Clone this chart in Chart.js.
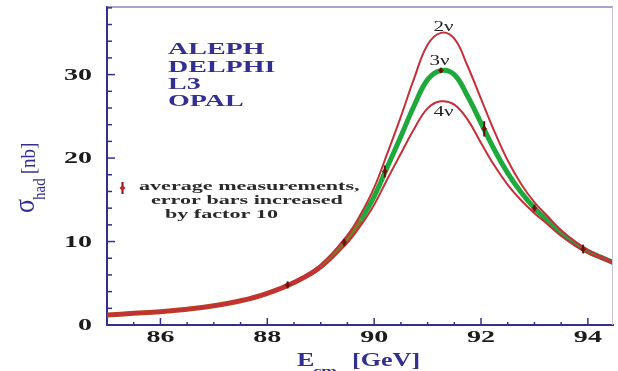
<!DOCTYPE html>
<html>
<head>
<meta charset="utf-8">
<script src="https://cdn.jsdelivr.net/npm/chart.js@4.4.1/dist/chart.umd.min.js"></script>
<style>
  html, body { margin: 0; padding: 0; background: #fff; }
</style>
</head>
<body>
<canvas id="lineshape" width="618" height="371"></canvas>
<script>
// hadronic cross section vs centre-of-mass energy
const energies = [85, 85.5, 86, 86.5, 87, 87.5, 88, 88.5, 89, 89.5, 89.75, 90, 90.25, 90.5, 90.75,
  91, 91.25, 91.5, 91.75, 92, 92.25, 92.5, 92.75, 93, 93.25, 93.5, 93.75, 94, 94.25, 94.5];
const sigma2nu = [1.21, 1.41, 1.61, 1.92, 2.32, 2.94, 3.86, 5.21, 7.22, 10.76, 13.29, 16.46, 20.62, 24.97, 29.59,
  33.57, 35.0, 34.3, 31.0, 27.1, 23.2, 19.7, 16.9, 14.7, 13.0, 11.35, 10.05, 8.99, 8.25, 7.53];
const sigma3nu = [1.2, 1.4, 1.6, 1.9, 2.3, 2.9, 3.8, 5.1, 7.0, 10.3, 12.6, 15.4, 19.0, 22.6, 26.3,
  29.4, 30.5, 30.0, 27.4, 24.2, 21.0, 18.2, 15.9, 14.0, 12.5, 11.0, 9.8, 8.8, 8.1, 7.4];
const sigma4nu = [1.19, 1.39, 1.59, 1.88, 2.27, 2.86, 3.74, 4.98, 6.78, 9.86, 11.94, 14.41, 17.52, 20.54, 23.51,
  25.96, 26.8, 26.4, 24.6, 21.8, 19.1, 16.8, 14.95, 13.4, 12.04, 10.66, 9.54, 8.6, 7.94, 7.27];

const measEnergy = [88.38, 89.44, 90.2, 91.25, 92.06, 93.0, 93.91];
const measSigma = [4.8, 9.9, 18.4, 30.5, 23.5, 14.0, 9.1];
const measError = [0.3, 0.3, 0.6, 0.2, 0.8, 0.3, 0.4];

const xTicks = [86, 88, 90, 92, 94];
const yTicks = [0, 10, 20, 30];
const experiments = ['ALEPH', 'DELPHI', 'L3', 'OPAL'];
const curveNames = ['2ν', '3ν', '4ν'];
const legendLines = ['average measurements,', 'error bars increased', 'by factor 10'];

const serif = '"Liberation Serif", "DejaVu Serif", serif';
const navy = '#332f8f';
const red = '#c4303a';

function wideText(c, text, x, y, font, color, align, sx) {
  c.save();
  c.font = font;
  c.fillStyle = color;
  c.textBaseline = 'middle';
  c.textAlign = 'left';
  const w = c.measureText(text).width * sx;
  let x0 = x;
  if (align === 'center') x0 = x - w / 2;
  if (align === 'right') x0 = x - w;
  c.translate(x0, y);
  c.scale(sx, 1);
  c.fillText(text, 0, 0);
  c.restore();
  return w;
}

const errorBars = {
  id: 'errorBars',
  afterDatasetsDraw(chart) {
    const { ctx, scales: { x, y } } = chart;
    ctx.save();
    ctx.strokeStyle = '#5c1010';
    ctx.lineWidth = 2;
    measEnergy.forEach((e, i) => {
      const px = x.getPixelForValue(e);
      ctx.beginPath();
      ctx.moveTo(px, y.getPixelForValue(measSigma[i] - measError[i]) + 1);
      ctx.lineTo(px, y.getPixelForValue(measSigma[i] + measError[i]) - 1);
      ctx.stroke();
    });
    ctx.restore();
  }
};

const frame = {
  id: 'frame',
  afterDraw(chart) {
    const { ctx, chartArea: a, scales: { x, y } } = chart;
    ctx.save();
    // top and right border
    ctx.strokeStyle = '#8a88b8';
    ctx.lineWidth = 1.5;
    ctx.beginPath();
    ctx.moveTo(a.left, a.top); ctx.lineTo(a.right, a.top);
    ctx.stroke();
    ctx.strokeStyle = '#c4c2de';
    ctx.lineWidth = 1;
    ctx.beginPath();
    ctx.moveTo(a.right - 0.5, a.top); ctx.lineTo(a.right - 0.5, a.bottom);
    ctx.stroke();

    // inward ticks
    ctx.strokeStyle = navy;
    ctx.lineWidth = 1.5;
    for (let v = 2; v <= 38; v += 2) {
      const py = y.getPixelForValue(v);
      const len = yTicks.includes(v) ? 8 : 5;
      ctx.beginPath(); ctx.moveTo(a.left, py); ctx.lineTo(a.left + len, py); ctx.stroke();
    }
    for (let v = 85.5; v <= 94.4; v += 0.5) {
      const px = x.getPixelForValue(v);
      const len = xTicks.includes(v) ? 7 : 3;
      ctx.beginPath(); ctx.moveTo(px, a.bottom); ctx.lineTo(px, a.bottom - len); ctx.stroke();
    }

    // tick labels
    const tickFont = 'bold 17px ' + serif;
    yTicks.forEach(v => wideText(ctx, String(v), 92, y.getPixelForValue(v) + 1, tickFont, '#1c1c1c', 'right', 1.65));
    xTicks.forEach(v => wideText(ctx, String(v), x.getPixelForValue(v), a.bottom + 13, tickFont, '#1c1c1c', 'center', 1.65));

    // x title: E_cm [GeV]
    ctx.fillStyle = navy;
    ctx.textBaseline = 'alphabetic';
    [['E', 297, 366, 'bold 18px '], ['cm', 313, 375, 'bold 13px '], ['[GeV]', 352, 366, 'bold 18px ']].forEach(([t, tx, ty, f]) => {
      ctx.save(); ctx.font = f + serif; ctx.translate(tx, ty); ctx.scale(1.45, 1); ctx.fillText(t, 0, 0); ctx.restore();
    });

    // y title: sigma_had [nb]
    ctx.save();
    ctx.translate(2, 213);
    ctx.scale(1.15, 1);
    ctx.rotate(-Math.PI / 2);
    ctx.fillStyle = navy;
    ctx.textBaseline = 'alphabetic';
    ctx.font = '26px ' + serif;
    let off = 0;
    ctx.fillText('σ', off, 28);
    off += ctx.measureText('σ').width - 1;
    ctx.font = '15px ' + serif;
    ctx.fillText('had', off, 37);
    off += ctx.measureText('had').width + 4;
    ctx.font = '19px ' + serif;
    ctx.fillText('[nb]', off, 29);
    ctx.restore();

    // experiments
    experiments.forEach((t, i) => wideText(ctx, t, 168, 50 + i * 17.4, 'bold 16px ' + serif, navy, 'left', 1.75));

    // curve labels
    const peakX = x.getPixelForValue(91.3);
    wideText(ctx, curveNames[0], peakX, y.getPixelForValue(35.0) - 6, '15px ' + serif, '#222', 'center', 1.4);
    wideText(ctx, curveNames[1], peakX - 4, y.getPixelForValue(30.5) - 9, '15px ' + serif, '#222', 'center', 1.4);
    wideText(ctx, curveNames[2], peakX, y.getPixelForValue(26.8) + 11, '15px ' + serif, '#222', 'center', 1.4);

    // legend
    ctx.strokeStyle = '#7a1212';
    ctx.lineWidth = 2;
    ctx.beginPath(); ctx.moveTo(122.5, 182); ctx.lineTo(122.5, 194); ctx.stroke();
    ctx.fillStyle = '#c8202a';
    ctx.beginPath(); ctx.moveTo(122.5, 185); ctx.lineTo(125.5, 188); ctx.lineTo(122.5, 191); ctx.lineTo(119.5, 188); ctx.closePath(); ctx.fill();
    const lx = [139, 151, 165];
    legendLines.forEach((t, i) => wideText(ctx, t, lx[i], 187 + i * 14, 'bold 13px ' + serif, '#2a2a2a', 'left', 1.7));
    ctx.restore();
  }
};

const pts = arr => energies.map((e, i) => ({ x: e, y: arr[i] }));
const ctx = document.getElementById('lineshape').getContext('2d');

new Chart(ctx, {
  type: 'line',
  data: {
    datasets: [
      {
        label: 'measurements',
        data: measEnergy.map((e, i) => ({ x: e, y: measSigma[i] })),
        showLine: false,
        pointStyle: 'rectRot',
        pointRadius: 2.5,
        pointBackgroundColor: '#a81a1a',
        pointBorderColor: '#7a1212',
        pointBorderWidth: 1,
        order: 0
      },
      {
        label: '2nu',
        data: pts(sigma2nu),
        borderColor: red,
        borderWidth: 2,
        pointRadius: 0,
        tension: 0.4,
        order: 1
      },
      {
        label: '4nu',
        data: pts(sigma4nu),
        borderColor: red,
        borderWidth: 2,
        pointRadius: 0,
        tension: 0.4,
        order: 1
      },
      {
        label: '3nu',
        data: pts(sigma3nu),
        borderColor: '#1fa83c',
        borderWidth: 5,
        pointRadius: 0,
        tension: 0.4,
        segment: {
          borderColor: c => c.p1.parsed.x <= 89 ? '#b8401e' : (c.p1.parsed.x <= 89.75 ? '#7d7a22' : '#1fa83c')
        },
        order: 2
      }
    ]
  },
  options: {
    responsive: false,
    animation: false,
    layout: { padding: { top: 7, right: 1, left: 0, bottom: 0 } },
    plugins: { legend: { display: false }, tooltip: { enabled: false } },
    scales: {
      x: {
        type: 'linear',
        min: 85,
        max: 94.47,
        afterBuildTicks: s => { s.ticks = xTicks.map(v => ({ value: v })); },
        afterFit: s => { s.height = 46; },
        grid: { display: false, drawTicks: false },
        border: { display: true, color: navy, width: 2 },
        ticks: { display: false }
      },
      y: {
        type: 'linear',
        min: 0,
        max: 38.1,
        afterBuildTicks: s => { s.ticks = yTicks.map(v => ({ value: v })); },
        afterFit: s => { s.width = 107; },
        grid: { display: false, drawTicks: false },
        border: { display: true, color: navy, width: 2 },
        ticks: { display: false }
      }
    }
  },
  plugins: [errorBars, frame]
});
</script>
</body>
</html>
